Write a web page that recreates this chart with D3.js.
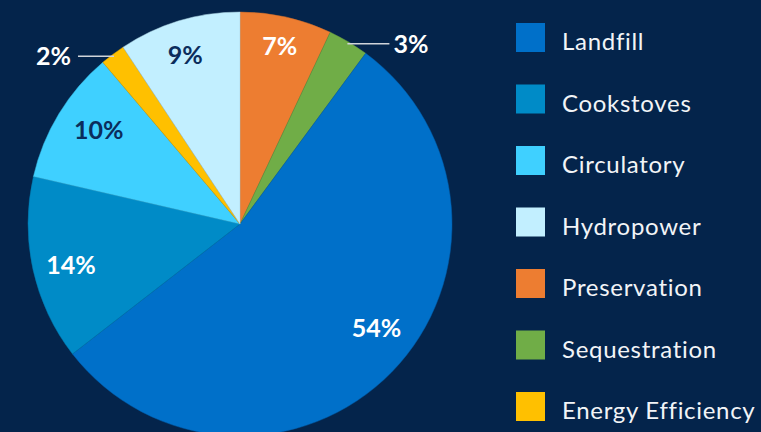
<!DOCTYPE html>
<html>
<head>
<meta charset="utf-8">
<script src="https://cdn.jsdelivr.net/npm/d3@7"></script>
<style>
  body { margin: 0; background: #05244c; }
  svg { display: block; }
</style>
</head>
<body>
<div id="graph"></div>
<script>
"use strict";

var width = 761,
    height = 432;

// slices, clockwise from 12 o'clock
const sliceNames = ["Preservation", "Sequestration", "Landfill", "Cookstoves", "Circulatory", "Energy Efficiency", "Hydropower"];
const sliceValues = [7.0, 3.1, 54.4, 14.1, 10.2, 1.9, 9.3];
const sliceColors = ["#ED7D31", "#70AD47", "#0070C9", "#008BC7", "#3FD0FF", "#FFC000", "#C2EFFF"];

// legend order
const legendNames = ["Landfill", "Cookstoves", "Circulatory", "Hydropower", "Preservation", "Sequestration", "Energy Efficiency"];

let svg = d3.select("#graph")
    .append("svg")
    .attr("width", width)
    .attr("height", height);

svg.append("rect")
    .attr("width", width)
    .attr("height", height)
    .attr("fill", "#04244b");

let cx = 240, cy = 224, radius = 212;

let data = sliceNames.map((n, i) => ({ name: n, value: sliceValues[i], color: sliceColors[i] }));

let pie = d3.pie().sort(null).value(d => d.value);
let arc = d3.arc().innerRadius(0).outerRadius(radius);
let arcs = pie(data);

let g = svg.append("g").attr("transform", "translate(" + cx + "," + cy + ")");

g.selectAll("path")
    .data(arcs)
    .enter()
    .append("path")
    .attr("d", arc)
    .attr("fill", d => d.data.color)
    .attr("stroke", d => d3.color(d.data.color).darker(0.4))
    .attr("stroke-width", 0.5);

// point on the slice's mid angle (with optional shift in radians)
let labelArc = function (d, r, shift) {
    let a = (d.startAngle + d.endAngle) / 2 + (shift || 0);
    return [Math.sin(a) * r, -Math.cos(a) * r];
};

let darkText = { "Hydropower": true, "Circulatory": true };
let labelR = { "Preservation": 0.86, "Landfill": 0.81, "Cookstoves": 0.82, "Circulatory": 0.80, "Hydropower": 0.84 };
let labelShift = { "Landfill": -0.12, "Cookstoves": -0.02, "Circulatory": 0.04, "Hydropower": -0.02 };

arcs.forEach(function (d) {
    let txt = Math.round(d.data.value) + "%";
    if (labelR[d.data.name]) {
        let p = labelArc(d, radius * labelR[d.data.name], labelShift[d.data.name]);
        g.append("text")
            .attr("x", p[0])
            .attr("y", p[1])
            .attr("dy", "0.36em")
            .attr("text-anchor", "middle")
            .attr("font-family", "Lato, 'Open Sans', sans-serif")
            .attr("font-weight", 700)
            .attr("font-size", 25)
            .attr("fill", darkText[d.data.name] ? "#0b2d5c" : "#ffffff")
            .text(txt);
    } else {
        // small slices: label outside with a horizontal leader
        let p = labelArc(d, radius * 0.99);
        let right = p[0] > 0;
        let x2 = right ? p[0] + 42 : p[0] - 36;
        g.append("line")
            .attr("x1", p[0])
            .attr("y1", p[1])
            .attr("x2", x2)
            .attr("y2", p[1])
            .attr("stroke", "#d0d4da")
            .attr("stroke-width", 1.5);
        g.append("text")
            .attr("x", right ? x2 + 4 : x2 - 7)
            .attr("y", p[1])
            .attr("dy", "0.36em")
            .attr("text-anchor", right ? "start" : "end")
            .attr("font-family", "Lato, 'Open Sans', sans-serif")
            .attr("font-weight", 700)
            .attr("font-size", 25)
            .attr("fill", "#ffffff")
            .text(txt);
    }
});

// legend
let colorOf = d3.scaleOrdinal().domain(sliceNames).range(sliceColors);
let legendY = d3.scalePoint().domain(legendNames).range([23, 392]);

let legend = svg.append("g").selectAll("g")
    .data(legendNames)
    .enter()
    .append("g")
    .attr("transform", d => "translate(516," + legendY(d) + ")");

legend.append("rect")
    .attr("width", 29)
    .attr("height", 29)
    .attr("fill", d => colorOf(d));

legend.append("text")
    .attr("x", 46)
    .attr("y", 27)
    .attr("font-family", "Lato, 'Open Sans', sans-serif")
    .attr("font-size", 24)
    .attr("letter-spacing", 0.7)
    .attr("fill", "#f2f4f7")
    .text(d => d);
</script>
</body>
</html>
